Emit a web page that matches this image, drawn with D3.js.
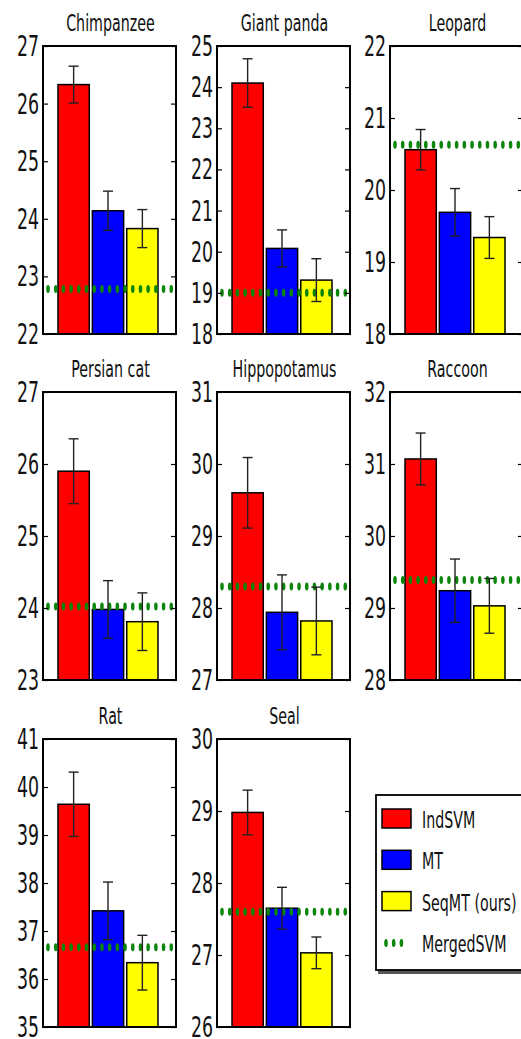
<!DOCTYPE html>
<html>
<head>
<meta charset="utf-8">
<script src="https://cdn.jsdelivr.net/npm/d3@7"></script>
<style>
  html, body { margin: 0; padding: 0; background: #fff; }
  svg { display: block; }
  text { font-family: "DejaVu Sans", sans-serif; fill: #111; }
</style>
</head>
<body>
<div id="chart"></div>
<script>
// values
const animals = ['Chimpanzee', 'Giant panda', 'Leopard', 'Persian cat', 'Hippopotamus', 'Raccoon', 'Rat', 'Seal'];
const methods = ['IndSVM', 'MT', 'SeqMT (ours)'];
const indSVM = [26.33, 24.1, 20.56, 25.9, 29.6, 31.07, 39.64, 28.98];
const indSVMErr = [0.32, 0.59, 0.28, 0.45, 0.49, 0.36, 0.67, 0.31];
const mt = [24.14, 20.08, 19.69, 23.98, 27.94, 29.24, 37.42, 27.65];
const mtErr = [0.34, 0.45, 0.33, 0.4, 0.52, 0.44, 0.6, 0.29];
const seqMT = [23.83, 19.31, 19.34, 23.81, 27.82, 29.03, 36.34, 27.03];
const seqMTErr = [0.33, 0.52, 0.29, 0.4, 0.47, 0.38, 0.57, 0.22];
const mergedSVM = [22.78, 19.0, 20.63, 24.02, 28.3, 29.39, 36.66, 27.6];
const yMin = [22, 18, 18, 23, 27, 28, 35, 26];
const yMax = [27, 25, 22, 27, 31, 32, 41, 30];

const colors = ['#ff0000', '#0000ff', '#ffff00'];
const green = '#0a860a';

const W = 521, H = 1039;
const colLeft = [43, 217, 390];
const rowTop = [46, 392, 739];
const pw = 133, ph = 288;
const sx = 0.62;      // the picture is squeezed horizontally
const dotSx = 0.45;

const svg = d3.select('#chart').append('svg')
  .attr('width', W)
  .attr('height', H);

// draws a dotted green line, dots look like narrow ellipses
function dottedLine(g, x0, x1, y) {
  const dg = g.append('g')
    .attr('transform', 'translate(' + x0 + ',' + y + ') scale(' + dotSx + ',1)');
  dg.append('line')
    .attr('x1', 0).attr('x2', (x1 - x0) / dotSx)
    .attr('y1', 0).attr('y2', 0)
    .attr('stroke', green)
    .attr('stroke-width', 8)
    .attr('stroke-linecap', 'round')
    .attr('stroke-dasharray', '0.01 ' + (7.7 / dotSx));
}

animals.forEach(function (name, i) {
  const left = colLeft[i % 3];
  const top = rowTop[Math.floor(i / 3)];
  const g = svg.append('g').attr('transform', 'translate(' + left + ',' + top + ')');

  const x = d3.scaleBand().domain(methods).range([15, 115]).paddingInner(0.09);
  const y = d3.scaleLinear().domain([yMin[i], yMax[i]]).range([ph, 0]);
  const ticks = d3.range(yMin[i], yMax[i] + 1);

  const rows = [
    {m: methods[0], v: indSVM[i], e: indSVMErr[i], c: colors[0]},
    {m: methods[1], v: mt[i], e: mtErr[i], c: colors[1]},
    {m: methods[2], v: seqMT[i], e: seqMTErr[i], c: colors[2]}
  ];

  const clipId = 'clip' + i;
  g.append('clipPath').attr('id', clipId)
    .append('rect').attr('x', 0).attr('y', 0).attr('width', pw).attr('height', ph);

  const plot = g.append('g').attr('clip-path', 'url(#' + clipId + ')');

  // bars
  plot.selectAll('rect.bar')
    .data(rows)
    .enter()
    .append('rect')
      .attr('class', 'bar')
      .attr('x', function (d) { return x(d.m); })
      .attr('y', function (d) { return y(d.v); })
      .attr('width', x.bandwidth())
      .attr('height', function (d) { return ph - y(d.v); })
      .attr('fill', function (d) { return d.c; })
      .attr('stroke', '#000')
      .attr('stroke-width', 1.5);

  // merged SVM baseline
  dottedLine(plot, 5, pw + 6, y(mergedSVM[i]));

  // error bars
  const eb = plot.selectAll('g.err')
    .data(rows)
    .enter()
    .append('g')
      .attr('class', 'err')
      .attr('stroke', '#222')
      .attr('stroke-width', 1.4);
  eb.append('line')
    .attr('x1', function (d) { return x(d.m) + x.bandwidth() / 2; })
    .attr('x2', function (d) { return x(d.m) + x.bandwidth() / 2; })
    .attr('y1', function (d) { return y(d.v + d.e); })
    .attr('y2', function (d) { return y(d.v - d.e); });
  eb.selectAll('line.cap')
    .data(function (d) { return [[d, d.v + d.e], [d, d.v - d.e]]; })
    .enter()
    .append('line')
      .attr('class', 'cap')
      .attr('x1', function (d) { return x(d[0].m) + x.bandwidth() / 2 - 5; })
      .attr('x2', function (d) { return x(d[0].m) + x.bandwidth() / 2 + 5; })
      .attr('y1', function (d) { return y(d[1]); })
      .attr('y2', function (d) { return y(d[1]); });

  // ticks on both sides, pointing in
  g.append('g')
    .call(d3.axisLeft(y).tickValues(ticks).tickSize(-5).tickFormat(''))
    .call(function (a) { a.select('.domain').remove(); })
    .selectAll('line').attr('stroke', '#000').attr('stroke-width', 1.2);
  g.append('g')
    .attr('transform', 'translate(' + pw + ',0)')
    .call(d3.axisRight(y).tickValues(ticks).tickSize(-5).tickFormat(''))
    .call(function (a) { a.select('.domain').remove(); })
    .selectAll('line').attr('stroke', '#000').attr('stroke-width', 1.2);

  // tick labels, squeezed
  g.selectAll('text.tl')
    .data(ticks)
    .enter()
    .append('text')
      .attr('class', 'tl')
      .attr('transform', function (d) { return 'translate(-4,' + (y(d) + 10) + ') scale(' + sx + ',1)'; })
      .attr('text-anchor', 'end')
      .style('font-size', '28px')
      .text(function (d) { return d; });

  // frame
  g.append('rect')
    .attr('width', pw).attr('height', ph)
    .attr('fill', 'none')
    .attr('stroke', '#000')
    .attr('stroke-width', 2);

  // title
  g.append('text')
    .attr('transform', 'translate(' + (pw / 2 + 1) + ',-15) scale(' + sx + ',1)')
    .attr('text-anchor', 'middle')
    .style('font-size', '23px')
    .text(name);
});

// legend
const lg = svg.append('g').attr('transform', 'translate(376,795)');
lg.append('rect')
  .attr('x', 2).attr('y', 3)
  .attr('width', 160).attr('height', 176)
  .attr('fill', '#555');
lg.append('rect')
  .attr('width', 160).attr('height', 175)
  .attr('fill', '#fff')
  .attr('stroke', '#000')
  .attr('stroke-width', 1.8);

const legendItems = methods.concat(['MergedSVM']);
legendItems.forEach(function (name, k) {
  const yy = 24 + k * 41.3;
  if (k < 3) {
    lg.append('rect')
      .attr('x', 6).attr('y', yy - 10)
      .attr('width', 29).attr('height', 19)
      .attr('fill', colors[k])
      .attr('stroke', '#000')
      .attr('stroke-width', 1.5);
  } else {
    dottedLine(lg, 10, 32, yy);
  }
  lg.append('text')
    .attr('transform', 'translate(46,' + (yy + 9) + ') scale(' + sx + ',1)')
    .style('font-size', '23px')
    .text(name);
});
</script>
</body>
</html>
